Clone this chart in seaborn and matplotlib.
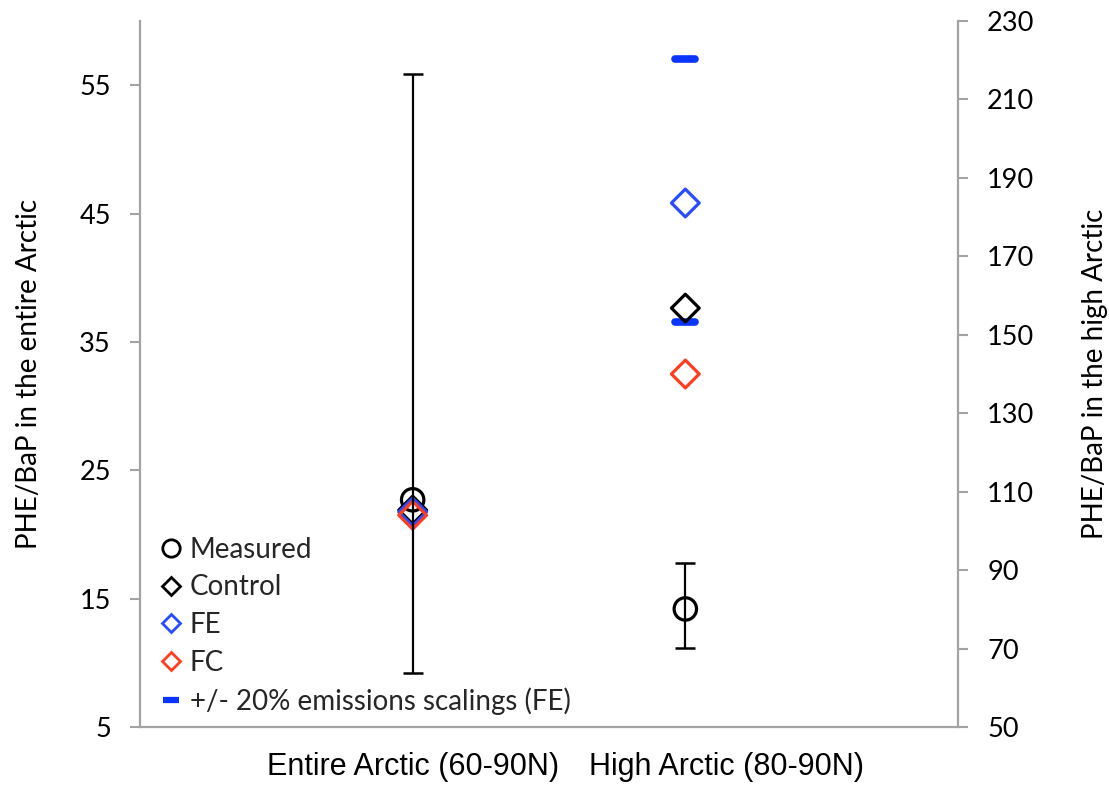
import matplotlib as mpl
mpl.use('Agg')
import matplotlib.pyplot as plt
from matplotlib.lines import Line2D
from matplotlib.transforms import ScaledTranslation
import seaborn as sns

# values
regions = ['Entire Arctic (60-90N)', 'High Arctic (80-90N)']
measured = [22.7, 80.1]
measured_lo = [9.2, 70.2]
measured_hi = [55.9, 91.7]
control = [21.9, 156.8]
fe = [21.75, 183.6]
fc = [21.5, 140.0]
fe_scaled = [220.3, 153.3]      # +/- 20% emissions (FE), high Arctic only

left_ticks = list(range(5, 60, 10))
right_ticks = list(range(50, 231, 20))

black = '#000000'
blue = '#2a4cff'
dash_blue = '#0a34ff'
red = '#ff3d1f'
grey = '#a3a3a3'


def draw_region(axis, i):
    x = [i + 1]
    if i == 1:
        sns.scatterplot(x=x * len(fe_scaled), y=fe_scaled, ax=axis,
                        marker='_', s=190, color=dash_blue, linewidth=5.5,
                        zorder=2)
        axis.collections[-1].set_capstyle('round')
    sns.scatterplot(x=x, y=[measured[i]], ax=axis, marker='o', s=260,
                    color=black, facecolor='none', edgecolor=black,
                    linewidth=2.3, zorder=3)
    for vals, col in [(control, black), (fe, blue), (fc, red)]:
        sns.scatterplot(x=x, y=[vals[i]], ax=axis, marker='D', s=200,
                        color=col, facecolor='none', edgecolor=col,
                        linewidth=2.3, zorder=4)
    axis.errorbar(x, [measured[i]],
                  yerr=[[measured[i] - measured_lo[i]],
                        [measured_hi[i] - measured[i]]],
                  fmt='none', ecolor=black, elinewidth=1.6, capsize=7,
                  capthick=1.8, zorder=5)


sns.set_theme(style='white')
plt.rcParams['font.family'] = ['Lato', 'DejaVu Sans']

fig = plt.figure(figsize=(11.09, 7.86), dpi=100)
ax = fig.add_axes([140 / 1109, 1 - 727 / 786, 818 / 1109, 706 / 786])
ax2 = ax.twinx()

draw_region(ax, 0)
draw_region(ax2, 1)

ax.set_xlim(0, 3)
ax.set_ylim(5, 60)
ax2.set_ylim(50, 230)
ax.set_yticks(left_ticks)
ax2.set_yticks(right_ticks)
ax.set_xticks([1, 2])
ax.set_xticklabels(regions, family='Liberation Sans', size=22)

for a in (ax, ax2):
    for side in ('top', 'right', 'left', 'bottom'):
        a.spines[side].set_visible(False)
    a.grid(False)
ax.spines['left'].set_visible(True)
ax.spines['bottom'].set_visible(True)
ax2.spines['right'].set_visible(True)
for sp in (ax.spines['left'], ax.spines['bottom'], ax2.spines['right']):
    sp.set_color(grey)
    sp.set_linewidth(1.6)

ax.tick_params(axis='y', left=True, direction='out', length=7, width=1.5,
               color=grey, pad=14, labelsize=19.5, labelcolor=black)
ax2.tick_params(axis='y', right=True, direction='out', length=7, width=1.5,
                color=grey, pad=14, labelsize=19.5, labelcolor=black)
ax.tick_params(axis='x', bottom=False, pad=12, labelcolor=black)

# second category label sits a little right of its marker column
lbl = ax.get_xticklabels()[1]
lbl.set_transform(lbl.get_transform() + ScaledTranslation(0.41, 0, fig.dpi_scale_trans))

ax.set_ylabel('PHE/BaP in the entire Arctic', size=20, color=black)
ax2.set_ylabel('PHE/BaP in the high Arctic', size=20, color=black,
               rotation=90)
ax.yaxis.set_label_coords(-0.12, 0.5)
ax2.yaxis.set_label_coords(1.152, 0.5)

handles = [
    Line2D([], [], ls='none', marker='o', ms=12.5, mfc='none', mec=black, mew=2),
    Line2D([], [], ls='none', marker='D', ms=9, mfc='none', mec=black, mew=2),
    Line2D([], [], ls='none', marker='D', ms=9, mfc='none', mec=blue, mew=2),
    Line2D([], [], ls='none', marker='D', ms=9, mfc='none', mec=red, mew=2),
    Line2D([], [], ls='none', marker='_', ms=12, mec=dash_blue, mew=4.5),
]
labels = ['Measured', 'Control', 'FE', 'FC', '+/- 20% emissions scalings (FE)']
ax2.legend(handles, labels, loc='lower left', bbox_to_anchor=(0.022, 0.017),
           frameon=False, fontsize=20, handlelength=0.97, handletextpad=0.18,
           labelspacing=0.42, borderpad=0, borderaxespad=0)

fig.savefig('out.png', dpi=100)
